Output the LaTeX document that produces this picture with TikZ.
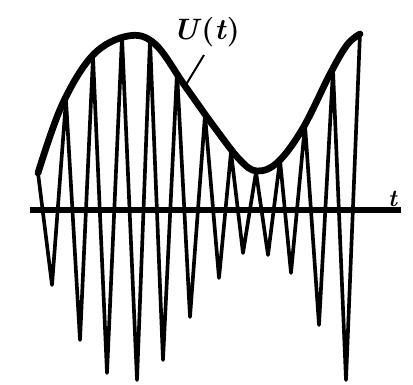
\documentclass[tikz,border=0pt]{standalone}
\usepackage{amsmath}
\usepackage{tikz}

\begin{document}
\begin{tikzpicture}[x=0.025cm, y=-0.025cm,
    envelope/.style={line width=4.8pt, line join=round, line cap=round},
    wave/.style={line width=2.6pt, line join=round},
    axis/.style={line width=3.6pt}]
    \useasboundingbox (0,0) rectangle (413,385);

    % time axis
    \draw[axis] (30,210) -- (401,210);
    \node (tlab) at (393,199) {\fontsize{17}{20}\selectfont\textbf{\textit{t}}};

    % carrier spikes, tips on the envelope
    \draw[wave] plot coordinates {
        (38,173) (52,285) (66,100) (80,340) (93,57) (107,373)
        (122,37) (137,380) (150,40) (163,360) (177,72) (190,317)
        (205,115) (219,278) (231,152) (243,253) (256,172) (268,255)
        (280,160) (291,273) (305,125) (319,325) (333,70) (346,380)
        (360,33)};

    % envelope U(t)
    \draw[envelope] plot[smooth, tension=0.6] coordinates {
        (38,173) (62,105) (93,55) (128,36) (155,44) (185,86)
        (215,128) (240,160) (257,171) (278,162) (303,128)
        (330,74) (347,45) (360,34)};

    \node (ulab) at (206,32) {\fontsize{21}{24}\selectfont\textbf{\textit{U}(\textit{t})}};
    \coordinate (utip) at (184,88);
    \draw[line width=1.4pt] (204,55) -- (utip);
\end{tikzpicture}
\end{document}
